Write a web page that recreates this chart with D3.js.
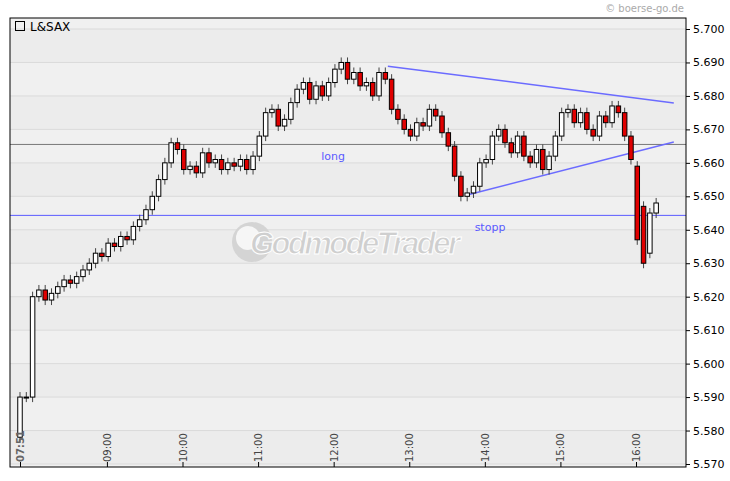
<!DOCTYPE html><html><head><meta charset="utf-8"><script src="https://cdn.jsdelivr.net/npm/d3@7"></script>
<style>body{margin:0;background:#fff}svg{font-family:"DejaVu Sans",Verdana,sans-serif}</style></head><body><svg id="c" width="730" height="481"></svg>
<script>
const startMin = 7*60+51, stepMin = 5;
const firstOpen = 5.578;
const closes = [5.590,5.590,5.620,5.622,5.619,5.621,5.623,5.625,5.624,5.626,5.628,5.630,5.633,5.632,5.636,5.635,5.638,5.637,5.641,5.643,
5.646,5.650,5.655,5.660,5.666,5.664,5.658,5.659,5.657,5.663,5.660,5.661,5.658,5.660,5.659,5.661,5.658,5.662,5.668,5.675,
5.676,5.671,5.673,5.678,5.682,5.684,5.679,5.683,5.680,5.684,5.688,5.690,5.685,5.687,5.683,5.684,5.680,5.687,5.685,5.676,
5.673,5.670,5.668,5.672,5.671,5.676,5.674,5.669,5.665,5.656,5.650,5.651,5.653,5.660,5.661,5.668,5.670,5.666,5.663,5.668,
5.662,5.660,5.664,5.658,5.662,5.668,5.675,5.676,5.672,5.675,5.670,5.668,5.674,5.672,5.677,5.675,5.668,5.661,5.637,5.630,5.645,5.648];
const opensOverride = {98:5.659, 99:5.647, 100:5.633};
const yTicks = [5.570,5.580,5.590,5.600,5.610,5.620,5.630,5.640,5.650,5.660,5.670,5.680,5.690,5.700];
const xTickLabels = ["07:51","09:00","10:00","11:00","12:00","13:00","14:00","15:00","16:00"];
const hLines = [{p:5.6655,c:"#777",label:"long"},{p:5.6443,c:"#5a5aff",label:"stopp"}];
const trend = [[[12*60+43,5.6889],[16*60+30,5.6779]],[[13*60+46,5.6504],[16*60+30,5.6662]]];

const svg=d3.select("#c");
const L=10,R=686,T=18,B=467;
const x=d3.scaleLinear().domain([startMin,16*60]).range([20,636]);
const y=d3.scaleLinear().domain([5.570,5.700]).range([464,29]);
const toMin=s=>{const[h,m]=s.split(":").map(Number);return h*60+m;};
const bandEdges=[B,...yTicks.map(y).filter(v=>v<B&&v>T),T].sort((a,b)=>b-a);
for(let i=0;i<bandEdges.length-1;i++){
  svg.append("rect").attr("x",L).attr("width",R-L).attr("y",bandEdges[i+1]).attr("height",bandEdges[i]-bandEdges[i+1]).attr("fill",i%2?"#ececec":"#f0f0f0");
}
yTicks.forEach(t=>svg.append("line").attr("x1",L).attr("x2",R).attr("y1",y(t)).attr("y2",y(t)).attr("stroke","#dadada"));
// watermark
const wm=svg.append("g");
wm.append("circle").attr("cx",252).attr("cy",242).attr("r",20).attr("fill","#d4d4d4");
wm.append("circle").attr("cx",248).attr("cy",238).attr("r",12).attr("fill","#f6f6f6");
wm.append("text").attr("x",355).attr("y",254).attr("text-anchor","middle").attr("font-family","Liberation Sans").attr("font-size",31).attr("font-weight","bold").attr("font-style","italic").attr("fill","#cfcfcf").attr("stroke","#fff").attr("stroke-width",1).attr("textLength",210).text("GodmodeTrader");
// hlines
hLines.forEach((h,i)=>{svg.append("line").attr("x1",L).attr("x2",R).attr("y1",y(h.p)).attr("y2",y(h.p)).attr("stroke",h.c);
 svg.append("text").attr("x",i?490:333).attr("y",y(h.p)+16).attr("text-anchor","middle").attr("font-size",11).attr("fill","#5a5aff").text(h.label);});
trend.forEach(t=>svg.append("line").attr("x1",x(t[0][0])).attr("y1",y(t[0][1])).attr("x2",x(t[1][0])).attr("y2",y(t[1][1])).attr("stroke","#6b6bff").attr("stroke-width",1.5));
// candles
const w=4.5;
closes.forEach((c,i)=>{
  const o = opensOverride[i]!==undefined?opensOverride[i]:(i===0?firstOpen:closes[i-1]);
  const hi=Math.max(o,c)+0.0015, lo=Math.min(o,c)-0.0015;
  const cx=x(startMin+i*stepMin);
  svg.append("line").attr("x1",cx).attr("x2",cx).attr("y1",y(hi)).attr("y2",y(lo)).attr("stroke","#444");
  const y1=y(Math.max(o,c)), y2=y(Math.min(o,c));
  svg.append("rect").attr("x",cx-w/2).attr("width",w).attr("y",y1).attr("height",Math.max(1,y2-y1)).attr("fill",c<o?"#e00000":"#fff").attr("stroke","#000").attr("stroke-width",1);
});
svg.append("rect").attr("x",L).attr("y",T).attr("width",R-L).attr("height",B-T).attr("fill","none").attr("stroke","#000");
const ya=svg.append("g").attr("transform",`translate(${R},0)`).call(d3.axisRight(y).tickValues(yTicks).tickFormat(d3.format(".3f")).tickSize(4));
ya.select(".domain").remove();
ya.selectAll("text").attr("font-size",11).attr("fill","#000").attr("font-family","DejaVu Sans");
const xa=svg.append("g").attr("transform",`translate(0,${B})`).call(d3.axisBottom(x).tickValues(xTickLabels.map(toMin)).tickFormat("").tickSize(-5).tickSizeOuter(0));
xa.select(".domain").remove();
xTickLabels.forEach((s,i)=>svg.append("text").attr("transform",`translate(${x(toMin(s))+4},462) rotate(-90)`).attr("font-size",10).attr("font-weight",i?"normal":"bold").attr("fill",i?"#444":"#666").text(s));
svg.append("rect").attr("x",15.5).attr("y",21.5).attr("width",9).attr("height",9).attr("fill","none").attr("stroke","#000");
svg.append("text").attr("x",30).attr("y",31).attr("font-size",12).text("L&SAX");
svg.append("text").attr("x",684).attr("y",12).attr("text-anchor","end").attr("font-size",10).attr("fill","#aaa").text("© boerse-go.de");
</script></body></html>
